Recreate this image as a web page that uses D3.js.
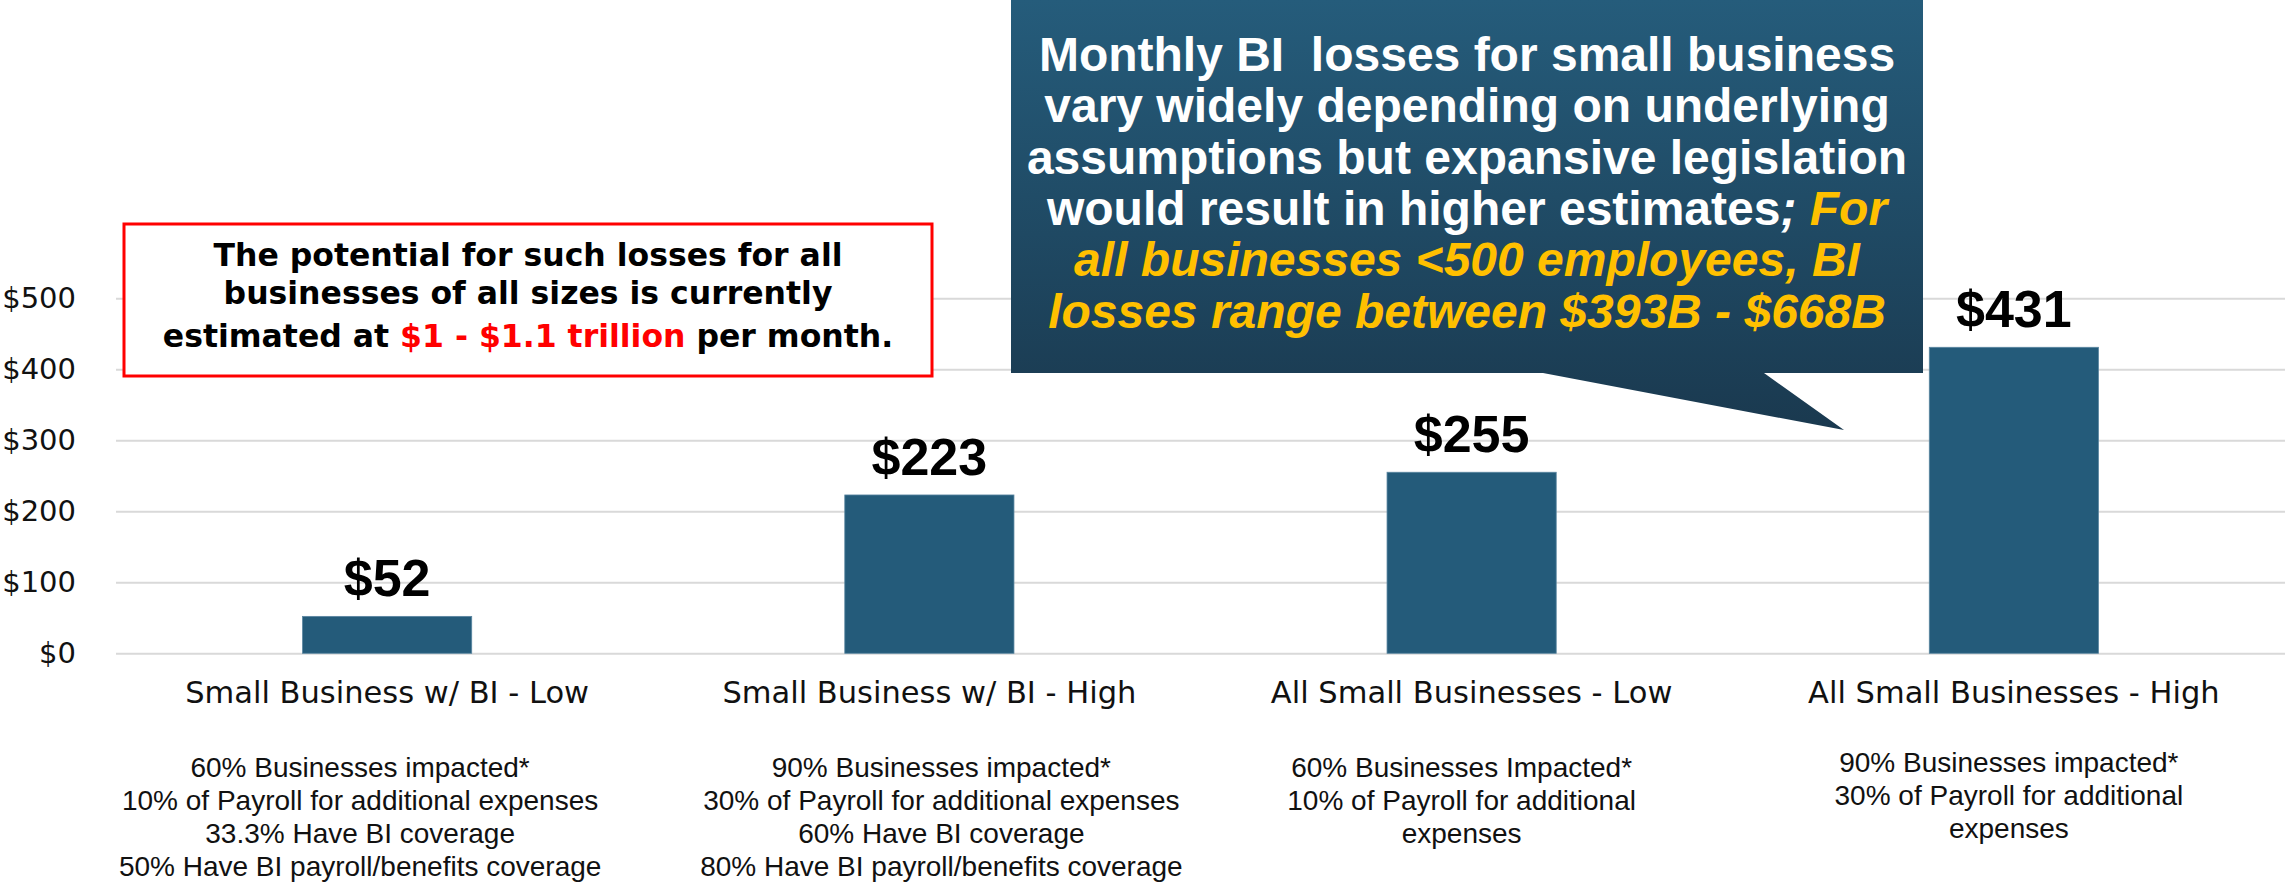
<!DOCTYPE html>
<html>
<head>
<meta charset="utf-8">
<script src="https://cdn.jsdelivr.net/npm/d3@7"></script>
<style>
  body { margin: 0; background: #fff; }
  svg { display: block; }
</style>
</head>
<body>
<svg id="chart"></svg>
<script>
const W = 2285;
const H = 887;

// Data
const categories = [
  "Small Business w/ BI - Low",
  "Small Business w/ BI - High",
  "All Small Businesses - Low",
  "All Small Businesses - High",
];
const values = [52, 223, 255, 431];
const yTicks = [0, 100, 200, 300, 400, 500];

const notes = [
  ["60% Businesses impacted*", "10% of Payroll for additional expenses", "33.3% Have BI coverage", "50% Have BI payroll/benefits coverage"],
  ["90% Businesses impacted*", "30% of Payroll for additional expenses", "60% Have BI coverage", "80% Have BI payroll/benefits coverage"],
  ["60% Businesses Impacted*", "10% of Payroll for additional", "expenses"],
  ["90% Businesses impacted*", "30% of Payroll for additional", "expenses"],
];

const boxLines = [
  [{ t: "The potential for such losses for all" }],
  [{ t: "businesses of all sizes is currently" }],
  [{ t: "estimated at " }, { t: "$1 - $1.1 trillion", hi: true }, { t: " per month." }],
];

const calloutLines = [
  [{ t: "Monthly BI  losses for small business" }],
  [{ t: "vary widely depending on underlying" }],
  [{ t: "assumptions but expansive legislation" }],
  [{ t: "would result in higher estimates" }, { t: "; ", it: true }, { t: "For", it: true, hi: true }],
  [{ t: "all businesses <500 employees, BI", it: true, hi: true }],
  [{ t: "losses range between $393B - $668B", it: true, hi: true }],
];

// Layout
const plot = { left: 116, right: 2285, top: 298.3, bottom: 653.3 };
const noteShift = [-27, 12, -10, -5];
const noteStart = [777, 777, 777, 772];
const noteGap = 33;

const svg = d3.select("#chart").attr("width", W).attr("height", H);

const x = d3
  .scaleBand()
  .domain(categories)
  .range([plot.left, plot.right])
  .paddingInner(0.688)
  .paddingOuter(0.344);

const y = d3.scaleLinear().domain([0, 500]).range([plot.bottom, plot.top]);

// Gridlines
svg
  .append("g")
  .attr("transform", `translate(${plot.left},0)`)
  .call(d3.axisLeft(y).tickValues(yTicks).tickSize(-(plot.right - plot.left)).tickFormat(""))
  .call((g) => g.select(".domain").remove())
  .call((g) => g.selectAll("line").attr("stroke", "#d9d9d9").attr("stroke-width", 2));

// Y tick labels
svg
  .append("g")
  .attr("transform", "translate(76,0)")
  .call(d3.axisLeft(y).tickValues(yTicks).tickSize(0).tickPadding(0).tickFormat((d) => `$${d}`))
  .call((g) => g.select(".domain").remove())
  .call((g) =>
    g
      .selectAll("text")
      .attr("font-family", "DejaVu Sans, Verdana, sans-serif")
      .attr("font-size", 29)
      .attr("fill", "#111")
  );

// Bars
svg
  .append("g")
  .selectAll("rect")
  .data(values)
  .join("rect")
  .attr("x", (d, i) => x(categories[i]))
  .attr("y", (d) => y(d))
  .attr("width", x.bandwidth())
  .attr("height", (d) => y(0) - y(d))
  .attr("fill", "#245b7a")
  .attr("stroke", "#5a86a0")
  .attr("stroke-width", 0.8);

// Value labels
svg
  .append("g")
  .selectAll("text")
  .data(values)
  .join("text")
  .attr("x", (d, i) => x(categories[i]) + x.bandwidth() / 2)
  .attr("y", (d) => y(d) - 20)
  .attr("text-anchor", "middle")
  .attr("font-family", "Liberation Sans, Arial, sans-serif")
  .attr("font-weight", "bold")
  .attr("font-size", 52)
  .attr("fill", "#000")
  .text((d) => `$${d}`);

// Category labels
svg
  .append("g")
  .selectAll("text")
  .data(categories)
  .join("text")
  .attr("x", (d) => x(d) + x.bandwidth() / 2)
  .attr("y", 703)
  .attr("text-anchor", "middle")
  .attr("font-family", "DejaVu Sans, Verdana, sans-serif")
  .attr("font-size", 30.5)
  .attr("fill", "#111")
  .text((d) => d);

// Notes under categories
const noteG = svg
  .append("g")
  .selectAll("text")
  .data(notes)
  .join("text")
  .attr("text-anchor", "middle")
  .attr("font-family", "Liberation Sans, Arial, sans-serif")
  .attr("font-size", 28)
  .attr("fill", "#111");

noteG
  .selectAll("tspan")
  .data((d, i) => d.map((line, j) => ({ line, i, j })))
  .join("tspan")
  .attr("x", (d) => x(categories[d.i]) + x.bandwidth() / 2 + noteShift[d.i])
  .attr("y", (d) => noteStart[d.i] + d.j * noteGap)
  .text((d) => d.line);

// Red box
const box = { x: 124, y: 224, w: 808, h: 152 };
svg
  .append("rect")
  .attr("x", box.x)
  .attr("y", box.y)
  .attr("width", box.w)
  .attr("height", box.h)
  .attr("fill", "#fff")
  .attr("stroke", "#ff0000")
  .attr("stroke-width", 3);

const boxBase = [266, 304, 347];
const boxText = svg
  .append("g")
  .selectAll("text")
  .data(boxLines)
  .join("text")
  .attr("x", box.x + box.w / 2)
  .attr("y", (d, i) => boxBase[i])
  .attr("text-anchor", "middle")
  .attr("font-family", "DejaVu Sans, Verdana, sans-serif")
  .attr("font-weight", "bold")
  .attr("font-size", 31.5)
  .style("white-space", "pre");

boxText
  .selectAll("tspan")
  .data((d) => d)
  .join("tspan")
  .attr("fill", (d) => (d.hi ? "#ff0000" : "#000"))
  .text((d) => d.t);

// Callout
const defs = svg.append("defs");
const grad = defs
  .append("linearGradient")
  .attr("id", "calloutGrad")
  .attr("x1", 0)
  .attr("y1", 0)
  .attr("x2", 0)
  .attr("y2", 1);
grad.append("stop").attr("offset", "0%").attr("stop-color", "#255c7b");
grad.append("stop").attr("offset", "100%").attr("stop-color", "#1a394f");

const cb = { x0: 1011, x1: 1923, y0: 0, y1: 373 };
const tail = [[1764, 373], [1844, 430], [1543, 373]];
const calloutPath = d3.path();
calloutPath.moveTo(cb.x0, cb.y0);
calloutPath.lineTo(cb.x1, cb.y0);
calloutPath.lineTo(cb.x1, cb.y1);
tail.forEach(([px, py]) => calloutPath.lineTo(px, py));
calloutPath.lineTo(cb.x0, cb.y1);
calloutPath.closePath();

svg
  .append("path")
  .attr("d", calloutPath.toString())
  .attr("fill", "url(#calloutGrad)");

const callText = svg
  .append("g")
  .selectAll("text")
  .data(calloutLines)
  .join("text")
  .attr("x", (cb.x0 + cb.x1) / 2)
  .attr("y", (d, i) => 71 + i * 51.3)
  .attr("text-anchor", "middle")
  .attr("font-family", "Liberation Sans, Arial, sans-serif")
  .attr("font-weight", "bold")
  .attr("font-size", 48)
  .style("white-space", "pre");

callText
  .selectAll("tspan")
  .data((d) => d)
  .join("tspan")
  .attr("fill", (d) => (d.hi ? "#ffc000" : "#fff"))
  .attr("font-style", (d) => (d.it ? "italic" : "normal"))
  .text((d) => d.t);
</script>
</body>
</html>
